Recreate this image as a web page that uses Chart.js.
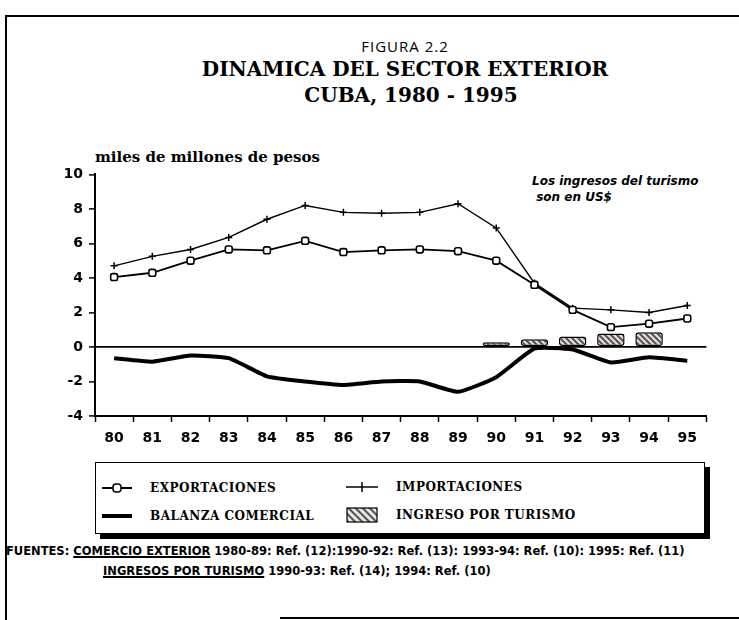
<!DOCTYPE html>
<html>
<head>
<meta charset="utf-8">
<script src="https://cdn.jsdelivr.net/npm/chart.js"></script>
<style>
  body { margin: 0; background: #fff; }
  #pagina { position: relative; width: 739px; height: 620px; overflow: hidden; font-family: 'DejaVu Sans', sans-serif; color: #000; }
  .marco-top { position: absolute; left: 5px; top: 15px; width: 740px; border-top: 2px solid #000; }
  .marco-izq { position: absolute; left: 5px; top: 15px; height: 610px; border-left: 2px solid #000; }
  .marco-bajo { position: absolute; left: 280px; top: 617px; width: 470px; border-top: 2px solid #000; }
  .t1 { position: absolute; left: 0; width: 810px; top: 36px; text-align: center; font: 15px 'Open Sans', sans-serif; letter-spacing: 1px; }
  .t2 { position: absolute; left: 0; width: 810px; top: 57px; text-align: center; font: bold 20px 'DejaVu Serif', serif; }
  .t3 { position: absolute; left: 0; width: 822px; top: 83px; text-align: center; font: bold 20px 'DejaVu Serif', serif; }
  .ytit { position: absolute; left: 95px; top: 148px; font: bold 15px 'DejaVu Serif', serif; }
  .nota { position: absolute; left: 532px; top: 173px; font: italic bold 12px 'DejaVu Sans', sans-serif; line-height: 16px; }
  #grafico { position: absolute; left: 40px; top: 160px; }
  .leyenda { position: absolute; left: 95px; top: 462px; width: 608px; height: 70px; border: 1.5px solid #000; box-shadow: 5px 5px 0 #000; background: #fff; }
  .item { position: absolute; font: bold 12px 'DejaVu Serif', serif; letter-spacing: 0.5px; display: flex; align-items: center; }
  .item svg { margin-right: 18px; }
  .fuentes { position: absolute; left: 6px; top: 541px; font: bold 11.5px 'DejaVu Sans', sans-serif; line-height: 20px; white-space: nowrap; }
  .fuentes u { text-decoration-thickness: 1.5px; }
</style>
</head>
<body>
<div id="pagina">
  <div class="marco-top"></div>
  <div class="marco-izq"></div>
  <div class="marco-bajo"></div>
  <div class="t1">FIGURA 2.2</div>
  <div class="t2">DINAMICA DEL SECTOR EXTERIOR</div>
  <div class="t3">CUBA, 1980 - 1995</div>
  <div class="ytit">miles de millones de pesos</div>
  <div class="nota">Los ingresos del turismo<br>&nbsp;son en US$</div>
  <canvas id="grafico" width="672" height="286"></canvas>
  <div class="leyenda">
    <div class="item" style="left:6px; top:18px;">
      <svg width="30" height="12"><line x1="0" y1="6" x2="30" y2="6" stroke="#000" stroke-width="2"/><rect x="11" y="2" width="8" height="8" rx="3" fill="#fff" stroke="#000" stroke-width="1.5"/></svg>EXPORTACIONES</div>
    <div class="item" style="left:250px; top:17px;">
      <svg width="32" height="12"><line x1="0" y1="6" x2="32" y2="6" stroke="#000" stroke-width="1.5"/><line x1="16" y1="1" x2="16" y2="11" stroke="#000" stroke-width="1.5"/></svg>IMPORTACIONES</div>
    <div class="item" style="left:6px; top:46px;">
      <svg width="30" height="12"><line x1="0" y1="6" x2="30" y2="6" stroke="#000" stroke-width="4"/></svg>BALANZA COMERCIAL</div>
    <div class="item" style="left:250px; top:44px;">
      <svg width="32" height="16"><defs><pattern id="rayas" width="5" height="5" patternUnits="userSpaceOnUse" patternTransform="rotate(-45)"><rect width="5" height="5" fill="#e8e4e0"/><rect width="2" height="5" fill="#555"/></pattern></defs><rect x="1" y="1" width="30" height="14" fill="url(#rayas)" stroke="#000" stroke-width="1.2"/></svg>INGRESO POR TURISMO</div>
  </div>
  <div class="fuentes">
    FUENTES: <u>COMERCIO EXTERIOR</u> 1980-89: Ref. (12):1990-92: Ref. (13): 1993-94: Ref. (10): 1995: Ref. (11)<br>
    <span style="margin-left:97px"><u>INGRESOS POR TURISMO</u> 1990-93: Ref. (14); 1994: Ref. (10)</span>
  </div>
</div>

<script>
// datos (miles de millones)
const anios = ['80','81','82','83','84','85','86','87','88','89','90','91','92','93','94','95'];
const exportaciones = [4.05, 4.3, 5.0, 5.65, 5.6, 6.15, 5.5, 5.6, 5.65, 5.55, 5.0, 3.6, 2.15, 1.15, 1.35, 1.65];
const importaciones = [4.7, 5.25, 5.65, 6.35, 7.4, 8.2, 7.8, 7.75, 7.8, 8.3, 6.9, 3.7, 2.25, 2.15, 2.0, 2.4];
const balanza = [-0.65, -0.85, -0.5, -0.65, -1.7, -2.0, -2.2, -2.0, -2.0, -2.6, -1.75, -0.1, -0.15, -0.9, -0.6, -0.8];
const turismo = [null, null, null, null, null, null, null, null, null, null, 0.28, 0.45, 0.6, 0.78, 0.85, null];
const ticksY = [-4, -2, 0, 2, 4, 6, 8, 10];

// relleno rayado para las barras
function crearRayado() {
  const c = document.createElement('canvas');
  c.width = 6; c.height = 6;
  const g = c.getContext('2d');
  g.fillStyle = '#e6e0dc';
  g.fillRect(0, 0, 6, 6);
  g.strokeStyle = '#5a5252';
  g.lineWidth = 2;
  g.beginPath();
  g.moveTo(0, 0); g.lineTo(6, 6);
  g.moveTo(-3, 3); g.lineTo(3, 9);
  g.moveTo(3, -3); g.lineTo(9, 3);
  g.stroke();
  return g.createPattern(c, 'repeat');
}

const fuenteEje = { family: "'DejaVu Sans', sans-serif", size: 14, weight: 'bold' };

new Chart(document.getElementById('grafico'), {
  data: {
    labels: anios,
    datasets: [
      {
        type: 'line', label: 'EXPORTACIONES', data: exportaciones, order: 1,
        borderColor: '#000', borderWidth: 1.8, pointStyle: 'rectRounded',
        pointRadius: 4, pointBackgroundColor: '#fff', pointBorderColor: '#000', pointBorderWidth: 1.6
      },
      {
        type: 'line', label: 'IMPORTACIONES', data: importaciones, order: 2,
        borderColor: '#000', borderWidth: 1.4, pointStyle: 'cross',
        pointRadius: 3.5, pointBorderColor: '#000', pointBorderWidth: 1.5
      },
      {
        type: 'line', label: 'BALANZA COMERCIAL', data: balanza, order: 3,
        borderColor: '#000', borderWidth: 4, pointRadius: 0, tension: 0.15
      },
      {
        type: 'bar', label: 'INGRESO POR TURISMO', data: turismo, order: 4,
        backgroundColor: crearRayado(), borderColor: '#000', borderWidth: 1.5,
        borderRadius: 3, borderSkipped: false, barPercentage: 0.72, categoryPercentage: 1
      }
    ]
  },
  options: {
    responsive: false,
    animation: false,
    devicePixelRatio: 1,
    layout: { padding: { top: 13, right: 5, left: 0, bottom: 0 } },
    plugins: { legend: { display: false }, tooltip: { enabled: false } },
    scales: {
      x: {
        offset: true,
        afterFit: s => { s.height = 30; },
        grid: { drawOnChartArea: false, tickLength: 6, tickColor: '#000', tickWidth: 1.5 },
        border: { color: '#000', width: 2 },
        ticks: { color: '#000', font: fuenteEje, padding: 8, maxRotation: 0 }
      },
      y: {
        min: -4, max: 10,
        afterFit: s => { s.width = 55; },
        afterBuildTicks: s => { s.ticks = ticksY.map(v => ({ value: v })); },
        grid: {
          color: c => (c.tick && c.tick.value === 0) ? '#000' : 'rgba(0,0,0,0)',
          lineWidth: 1.8, tickLength: 6, tickColor: '#000', tickWidth: 1.5
        },
        border: { color: '#000', width: 2 },
        ticks: { color: '#000', font: fuenteEje, padding: 6 }
      }
    }
  }
});
</script>
</body>
</html>
